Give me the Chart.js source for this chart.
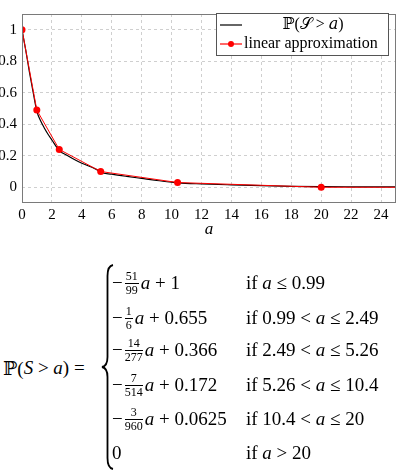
<!DOCTYPE html>
<html>
<head>
<meta charset="utf-8">
<script src="https://cdn.jsdelivr.net/npm/chart.js@4"></script>
<style>
  body { margin: 0; background: #fff; width: 400px; height: 471px; overflow: hidden; position: relative;
         font-family: "Liberation Serif", "DejaVu Serif", serif; color: #000; }
  #wrap { position: absolute; left: 0; top: 0; width: 400px; height: 240px; }
  .m { position: absolute; font-size: 19px; white-space: nowrap; height: 24px; display: flex; align-items: center; }
  .frac { display: inline-flex; flex-direction: column; font-size: 12px; line-height: 11px; text-align: center; margin: 0 2px 0 2px; }
  .frac span:first-child { border-bottom: 0.8px solid #000; padding: 0 1px 1px; }
  .frac span:last-child { padding-top: 1px; }
  i { font-style: italic; }
</style>
</head>
<body>
<div id="wrap"><canvas id="chart" width="400" height="240"></canvas></div>

<div class="m" style="left:3px; top:356px;">ℙ(<i>S</i>&nbsp;&gt;&nbsp;<i>a</i>)&nbsp;=</div>
<svg style="position:absolute;left:0;top:0" width="400" height="471">
  <path d="M113,265 Q107.5,266 107.5,276 L107.5,357 Q107.5,366 102,367 Q107.5,368 107.5,377 L107.5,458 Q107.5,468 113,469"
        fill="none" stroke="#000" stroke-width="1.8"/>
</svg>

<div class="m" style="left:112px; top:271px;">−<span class="frac"><span>51</span><span>99</span></span><i>a</i>&nbsp;+&nbsp;1</div>
<div class="m" style="left:112px; top:306px;">−<span class="frac"><span>1</span><span>6</span></span><i>a</i>&nbsp;+&nbsp;0.655</div>
<div class="m" style="left:112px; top:338px;">−<span class="frac"><span>14</span><span>277</span></span><i>a</i>&nbsp;+&nbsp;0.366</div>
<div class="m" style="left:112px; top:373px;">−<span class="frac"><span>7</span><span>514</span></span><i>a</i>&nbsp;+&nbsp;0.172</div>
<div class="m" style="left:112px; top:407px;">−<span class="frac"><span>3</span><span>960</span></span><i>a</i>&nbsp;+&nbsp;0.0625</div>
<div class="m" style="left:112px; top:441px;">0</div>

<div class="m" style="left:246px; top:271px;">if&nbsp;<i>a</i>&nbsp;≤&nbsp;0.99</div>
<div class="m" style="left:246px; top:306px;">if&nbsp;0.99&nbsp;&lt;&nbsp;<i>a</i>&nbsp;≤&nbsp;2.49</div>
<div class="m" style="left:246px; top:338px;">if&nbsp;2.49&nbsp;&lt;&nbsp;<i>a</i>&nbsp;≤&nbsp;5.26</div>
<div class="m" style="left:246px; top:373px;">if&nbsp;5.26&nbsp;&lt;&nbsp;<i>a</i>&nbsp;≤&nbsp;10.4</div>
<div class="m" style="left:246px; top:407px;">if&nbsp;10.4&nbsp;&lt;&nbsp;<i>a</i>&nbsp;≤&nbsp;20</div>
<div class="m" style="left:246px; top:441px;">if&nbsp;<i>a</i>&nbsp;&gt;&nbsp;20</div>

<script>
// survival curve
const curveA = [0, 0.25, 0.5, 0.75, 1, 1.25, 1.5, 1.75, 2, 2.5, 3, 3.5, 4, 5, 5.26, 6, 7, 8, 9, 10, 10.4, 12, 14, 16, 18, 20, 22, 25];
const curveP = [1, 0.87, 0.73, 0.6, 0.48, 0.42, 0.375, 0.335, 0.3, 0.232, 0.203, 0.176, 0.152, 0.112, 0.095, 0.083, 0.069, 0.056, 0.043, 0.032, 0.028, 0.021, 0.015, 0.01, 0.006, 0.004, 0.003, 0.002];

// piecewise linear approximation (breakpoints)
const approxA = [0, 0.99, 2.49, 5.26, 10.4, 20, 25];
const approxP = [1, 0.49, 0.24, 0.1, 0.03, 0, 0];
const approxMarks = [true, true, true, true, true, true, false];

const xTicks = [0, 2, 4, 6, 8, 10, 12, 14, 16, 18, 20, 22, 24];
const yTicks = [0, 0.2, 0.4, 0.6, 0.8, 1];

const serif = '"Liberation Serif", "DejaVu Serif", serif';

// pgfplots style frame + legend box inside the plot
const framePlugin = {
  id: 'frame',
  afterDraw(chart) {
    const { ctx, chartArea: a } = chart;
    ctx.save();
    ctx.strokeStyle = '#7a7a7a';
    ctx.lineWidth = 1;
    ctx.strokeRect(a.left + 0.5, a.top + 0.5, a.right - a.left - 1, a.bottom - a.top - 1);

    // legend
    const lx = 216, ly = 13, lw = 172, lh = 42;
    ctx.fillStyle = '#fff';
    ctx.fillRect(lx, ly, lw, lh);
    ctx.strokeStyle = '#555';
    ctx.strokeRect(lx + 0.5, ly + 0.5, lw, lh);
    const rows = [25, 44];
    chart.data.datasets.forEach((ds, i) => {
      const y = rows[i];
      ctx.strokeStyle = ds.borderColor;
      ctx.lineWidth = 1.2;
      ctx.beginPath();
      ctx.moveTo(220, y);
      ctx.lineTo(242, y);
      ctx.stroke();
      if (i === 1) {
        ctx.fillStyle = ds.backgroundColor;
        ctx.beginPath();
        ctx.arc(231, y, 3, 0, Math.PI * 2);
        ctx.fill();
      }
      ctx.fillStyle = '#000';
      ctx.textBaseline = 'middle';
      ctx.font = '16px ' + serif;
      if (i === 0) {
        ctx.textAlign = 'center';
        ctx.fillText(ds.label, 313, y);
      } else {
        ctx.textAlign = 'left';
        ctx.fillText(ds.label, 244, y);
      }
    });
    ctx.restore();
  }
};

new Chart(document.getElementById('chart'), {
  type: 'line',
  data: {
    datasets: [
      {
        label: 'ℙ(𝒮 > 𝑎)',
        data: curveA.map((a, i) => ({ x: a, y: curveP[i] })),
        borderColor: '#000',
        backgroundColor: '#000',
        borderWidth: 1.2,
        pointRadius: 0,
        cubicInterpolationMode: 'monotone',
        order: 2
      },
      {
        label: 'linear approximation',
        data: approxA.map((a, i) => ({ x: a, y: approxP[i] })),
        borderColor: '#ff0000',
        backgroundColor: '#ff0000',
        borderWidth: 1,
        pointRadius: approxMarks.map(m => m ? 3.5 : 0),
        pointBorderWidth: 0,
        tension: 0,
        order: 1
      }
    ]
  },
  options: {
    responsive: false,
    animation: false,
    layout: { padding: { top: 7, right: 2, left: 0, bottom: 0 } },
    plugins: { legend: { display: false }, tooltip: { enabled: false } },
    scales: {
      x: {
        type: 'linear',
        min: 0,
        max: 25,
        afterBuildTicks: s => { s.ticks = xTicks.map(v => ({ value: v })); },
        afterFit: s => { s.height = 37; },
        ticks: { color: '#000', font: { family: serif, size: 15 }, padding: 3, maxRotation: 0 },
        grid: { color: '#cfcfcf', drawTicks: false },
        border: { display: false, dash: [3, 3] },
        title: { display: true, text: 'a', color: '#000', font: { family: serif, size: 17, style: 'italic' }, padding: { top: 0, bottom: 0 } }
      },
      y: {
        type: 'linear',
        min: -0.1,
        max: 1.1,
        afterBuildTicks: s => { s.ticks = yTicks.map(v => ({ value: v })); },
        afterFit: s => { s.width = 22; },
        ticks: { color: '#000', font: { family: serif, size: 15 }, padding: 5, callback: v => String(Math.round(v * 10) / 10) },
        grid: { color: '#cfcfcf', drawTicks: false },
        border: { display: false, dash: [3, 3] }
      }
    }
  },
  plugins: [framePlugin]
});
</script>
</body>
</html>
